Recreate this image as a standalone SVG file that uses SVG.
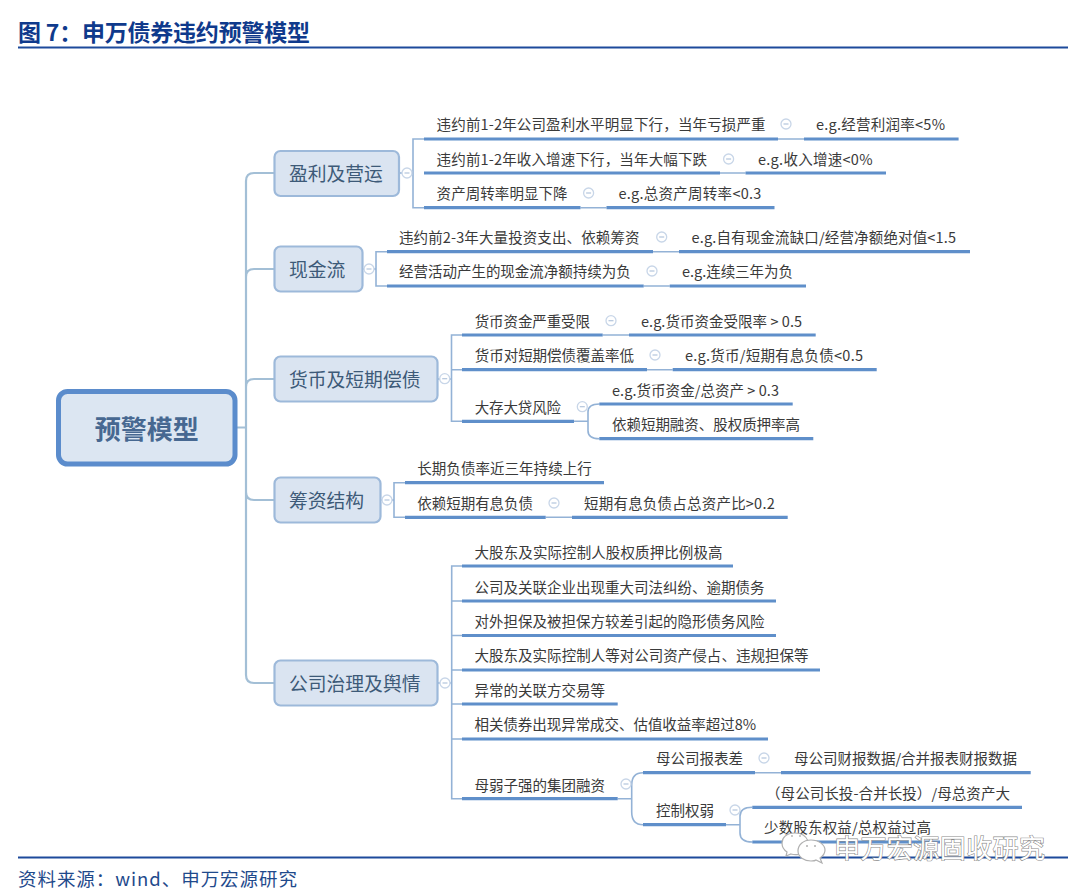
<svg xmlns="http://www.w3.org/2000/svg" width="1080" height="895" viewBox="0 0 1080 895">
<style>
text{font-family:"Noto Sans CJK SC","Noto Sans",sans-serif;fill:#3a3a3a;font-size:14.5px}
.h{font-size:23px;font-weight:700;fill:#0f3a8c}
.f{font-size:18.5px;fill:#1f4a8c}
.rule{stroke:#1d4a9b;stroke-width:2;fill:none}
.root{fill:#dce6f2;stroke:#5b8ccc;stroke-width:5}
.rt{font-size:26px;font-weight:700;fill:#476891;text-anchor:middle}
.b{fill:#dae4f1;stroke:#9db9da;stroke-width:2.2}
.bt{font-size:18.8px;fill:#3d5a78}
.u{stroke:#5f8fca;stroke-width:3.2;fill:none}
.c{stroke:#93b2d6;stroke-width:1.6;fill:none}
.t{stroke:#a3bfd6;stroke-width:2.2;fill:none}
.o{fill:#fff;stroke:#c8d6e8;stroke-width:1.3}
.d{stroke:#b3c5dc;stroke-width:1.2}
.wm{font-size:26px;fill:#fff;stroke:#8a8a8a;stroke-width:1.2px;paint-order:stroke}
.wi{fill:#fff;stroke:#b0b0b0;stroke-width:1.2}
</style>
<defs>
<g id="col"><circle class="o" r="5"/><line class="d" x1="-2.500" x2="2.500"/></g>
</defs>

<g id="header">
<text class="h" x="18" y="41" textLength="292">图 7：申万债券违约预警模型</text>
<line class="rule" x1="18" y1="47.500" x2="1068" y2="47.500"/>
</g>

<g id="connectors">
<path class="t" d="M236 427.500H246M274 173H254Q246 173 246 181V675Q246 683 254 683H274M246 277Q246 269 254 269H274M246 387Q246 379 254 379H274M246 492Q246 500 254 500H274"/>
<path class="c" d="M399 173H413M424 139H413V207.700H424"/>
<path class="c" d="M362 269H376M387 251.700H376V286H387"/>
<path class="c" d="M437 379H451.500M462 335H451.500V421.300H462M451.500 369.700H462"/>
<path class="c" d="M381 500H394M405 482.700H394V517.300H405"/>
<path class="c" d="M437.500 683H451.700M462 566H451.700V798.700H462M451.700 601H462M451.700 635.500H462M451.700 670H462M451.700 704H462M451.700 739H462"/>
<path class="c" d="M778 139H804M720 173H745.500M580.500 207.700H606.500M653 251.700H679M643.700 286H669.700M602.700 335H629M647 369.700H672.700M545.700 517.300H572M755 772.700H781"/>
<path class="c" d="M574 421.300H588M599.300 404Q588 404 588 412V430.700Q588 438.700 599.300 438.700"/>
<path class="c" d="M617.700 798.700H631.700M643 772.700Q631.700 772.700 631.700 785V812Q631.700 824.700 643 824.700"/>
<path class="c" d="M726 824.700H740M752.300 807.300Q740 807.300 740 816V833Q740 842 752.300 842"/>
</g>

<g id="root"><rect class="root" x="58.500" y="391.500" width="176.500" height="72.500" rx="9"/><text class="rt" x="146.700" y="439">预警模型</text></g>

<g id="n-profit"><rect class="b" x="274.500" y="151" width="124.500" height="45" rx="6"/><text class="bt" x="289" y="181">盈利及营运</text><use href="#col" x="407" y="173"/></g>
<g id="n-cash"><rect class="b" x="274.500" y="246.500" width="88" height="45" rx="6"/><text class="bt" x="289" y="277">现金流</text><use href="#col" x="369" y="269"/></g>
<g id="n-money"><rect class="b" x="274.500" y="356.500" width="163" height="45" rx="6"/><text class="bt" x="289" y="387">货币及短期偿债</text><use href="#col" x="444.700" y="378.700"/></g>
<g id="n-fund"><rect class="b" x="274.500" y="477.500" width="106" height="45" rx="6"/><text class="bt" x="289" y="508">筹资结构</text><use href="#col" x="387" y="500"/></g>
<g id="n-gov"><rect class="b" x="274.500" y="660.500" width="163" height="45" rx="6"/><text class="bt" x="289" y="691">公司治理及舆情</text><use href="#col" x="445" y="683"/></g>

<g id="p1"><text x="436.600" y="130" textLength="329">违约前1-2年公司盈利水平明显下行，当年亏损严重</text><line class="u" x1="424" y1="139" x2="778" y2="139"/><use href="#col" x="786" y="124"/></g>
<g id="p1a"><text x="816" y="130" textLength="129">e.g.经营利润率&lt;5%</text><line class="u" x1="804" y1="139" x2="958.600" y2="139"/></g>
<g id="p2"><text x="436.600" y="165" textLength="270.500">违约前1-2年收入增速下行，当年大幅下跌</text><line class="u" x1="424" y1="173" x2="720" y2="173"/><use href="#col" x="728.600" y="159"/></g>
<g id="p2a"><text x="758" y="165" textLength="114.500">e.g.收入增速&lt;0%</text><line class="u" x1="745.500" y1="173" x2="886" y2="173"/></g>
<g id="p3"><text x="436.600" y="199" textLength="131">资产周转率明显下降</text><line class="u" x1="424" y1="207.700" x2="580.500" y2="207.700"/><use href="#col" x="588.600" y="193"/></g>
<g id="p3a"><text x="618.400" y="199" textLength="143">e.g.总资产周转率&lt;0.3</text><line class="u" x1="606.500" y1="207.700" x2="774.500" y2="207.700"/></g>

<g id="c1"><text x="399" y="243" textLength="240.500">违约前2-3年大量投资支出、依赖筹资</text><line class="u" x1="387" y1="251.700" x2="653" y2="251.700"/><use href="#col" x="661.700" y="237"/></g>
<g id="c1a"><text x="691.500" y="243" textLength="264.500">e.g.自有现金流缺口/经营净额绝对值&lt;1.5</text><line class="u" x1="679" y1="251.700" x2="970" y2="251.700"/></g>
<g id="c2"><text x="399" y="277" textLength="231.700">经营活动产生的现金流净额持续为负</text><line class="u" x1="387" y1="286" x2="643.700" y2="286"/><use href="#col" x="652" y="271"/></g>
<g id="c2a"><text x="682" y="277" textLength="111">e.g.连续三年为负</text><line class="u" x1="669.700" y1="286" x2="806" y2="286"/></g>

<g id="m1"><text x="474.700" y="326.700" textLength="115.300">货币资金严重受限</text><line class="u" x1="462" y1="335" x2="602.700" y2="335"/><use href="#col" x="611" y="320.700"/></g>
<g id="m1a"><text x="641" y="326.700" textLength="161">e.g.货币资金受限率 &gt; 0.5</text><line class="u" x1="629" y1="335" x2="815.700" y2="335"/></g>
<g id="m2"><text x="474.700" y="361" textLength="159.300">货币对短期偿债覆盖率低</text><line class="u" x1="462" y1="369.700" x2="647" y2="369.700"/><use href="#col" x="655" y="355"/></g>
<g id="m2a"><text x="685" y="361" textLength="178">e.g.货币/短期有息负债&lt;0.5</text><line class="u" x1="672.700" y1="369.700" x2="876.700" y2="369.700"/></g>
<g id="m3"><text x="474.700" y="413" textLength="86.300">大存大贷风险</text><line class="u" x1="462" y1="421.300" x2="574" y2="421.300"/><use href="#col" x="582.300" y="406.700"/></g>
<g id="m3a"><text x="612" y="395.500" textLength="167">e.g.货币资金/总资产 &gt; 0.3</text><line class="u" x1="599.300" y1="404" x2="792.700" y2="404"/></g>
<g id="m3b"><text x="612" y="430" textLength="188">依赖短期融资、股权质押率高</text><line class="u" x1="599.300" y1="438.700" x2="813.300" y2="438.700"/></g>

<g id="f1"><text x="417.300" y="474" textLength="174.400">长期负债率近三年持续上行</text><line class="u" x1="405" y1="482.700" x2="604" y2="482.700"/></g>
<g id="f2"><text x="417.300" y="508.500" textLength="115.700">依赖短期有息负债</text><line class="u" x1="405" y1="517.300" x2="545.700" y2="517.300"/><use href="#col" x="554" y="503"/></g>
<g id="f2a"><text x="584" y="508.500" textLength="190.700">短期有息负债占总资产比&gt;0.2</text><line class="u" x1="572" y1="517.300" x2="787.700" y2="517.300"/></g>

<g id="g1"><text x="474.500" y="558" textLength="248">大股东及实际控制人股权质押比例极高</text><line class="u" x1="462" y1="566" x2="733" y2="566"/></g>
<g id="g2"><text x="474.500" y="592.500" textLength="290">公司及关联企业出现重大司法纠纷、逾期债务</text><line class="u" x1="462" y1="601" x2="776" y2="601"/></g>
<g id="g3"><text x="474.500" y="627" textLength="290">对外担保及被担保方较差引起的隐形债务风险</text><line class="u" x1="462" y1="635.500" x2="776" y2="635.500"/></g>
<g id="g4"><text x="474.500" y="661" textLength="334">大股东及实际控制人等对公司资产侵占、违规担保等</text><line class="u" x1="462" y1="670" x2="820" y2="670"/></g>
<g id="g5"><text x="474.500" y="696" textLength="130.500">异常的关联方交易等</text><line class="u" x1="462" y1="704" x2="617.700" y2="704"/></g>
<g id="g6"><text x="474.500" y="730" textLength="281.500">相关债券出现异常成交、估值收益率超过8%</text><line class="u" x1="462" y1="739" x2="768" y2="739"/></g>
<g id="g7"><text x="474.500" y="791" textLength="130.500">母弱子强的集团融资</text><line class="u" x1="462" y1="798.700" x2="617.700" y2="798.700"/><use href="#col" x="626" y="784"/></g>
<g id="g7a"><text x="656" y="764" textLength="87">母公司报表差</text><line class="u" x1="643" y1="772.700" x2="755" y2="772.700"/><use href="#col" x="764" y="758"/></g>
<g id="g7a1"><text x="794" y="764" textLength="223">母公司财报数据/合并报表财报数据</text><line class="u" x1="781" y1="772.700" x2="1030.700" y2="772.700"/></g>
<g id="g7b"><text x="656" y="816" textLength="58">控制权弱</text><line class="u" x1="643" y1="824.700" x2="726" y2="824.700"/><use href="#col" x="735" y="810"/></g>
<g id="g7b1"><text x="766" y="799" textLength="244">（母公司长投-合并长投）/母总资产大</text><line class="u" x1="752.300" y1="807.300" x2="1022" y2="807.300"/></g>
<g id="g7b2"><text x="764" y="833" textLength="167">少数股东权益/总权益过高</text><line class="u" x1="752.300" y1="842" x2="940" y2="842"/></g>

<g id="footer">
<line class="rule" x1="18" y1="857.500" x2="1068" y2="857.500"/>
<text class="f" x="18" y="886" textLength="279">资料来源：wind、申万宏源研究</text>
</g>

<g id="watermark">
<path class="wi" d="M795 833C786 833 782 838 782 843C782 847 784 850 787 852L786 856L791 854C794 855 800 855 804 853C809 850 810 845 808 841C806 836 801 833 795 833Z"/>
<path class="wi" d="M811 840C803 840 798 845 798 851C798 857 804 861 811 861C813 861 815 861 816 860L822 863L820 858C823 856 825 853 825 850C825 845 819 840 811 840Z"/>
<circle cx="792" cy="836" r="0.900" fill="#b0b0b0"/><circle cx="800" cy="836" r="0.900" fill="#b0b0b0"/>
<circle cx="807" cy="846" r="1" fill="#b0b0b0"/><circle cx="815" cy="846" r="1" fill="#b0b0b0"/>
<text class="wm" x="834" y="858" textLength="211">申万宏源固收研究</text>
</g>
</svg>
